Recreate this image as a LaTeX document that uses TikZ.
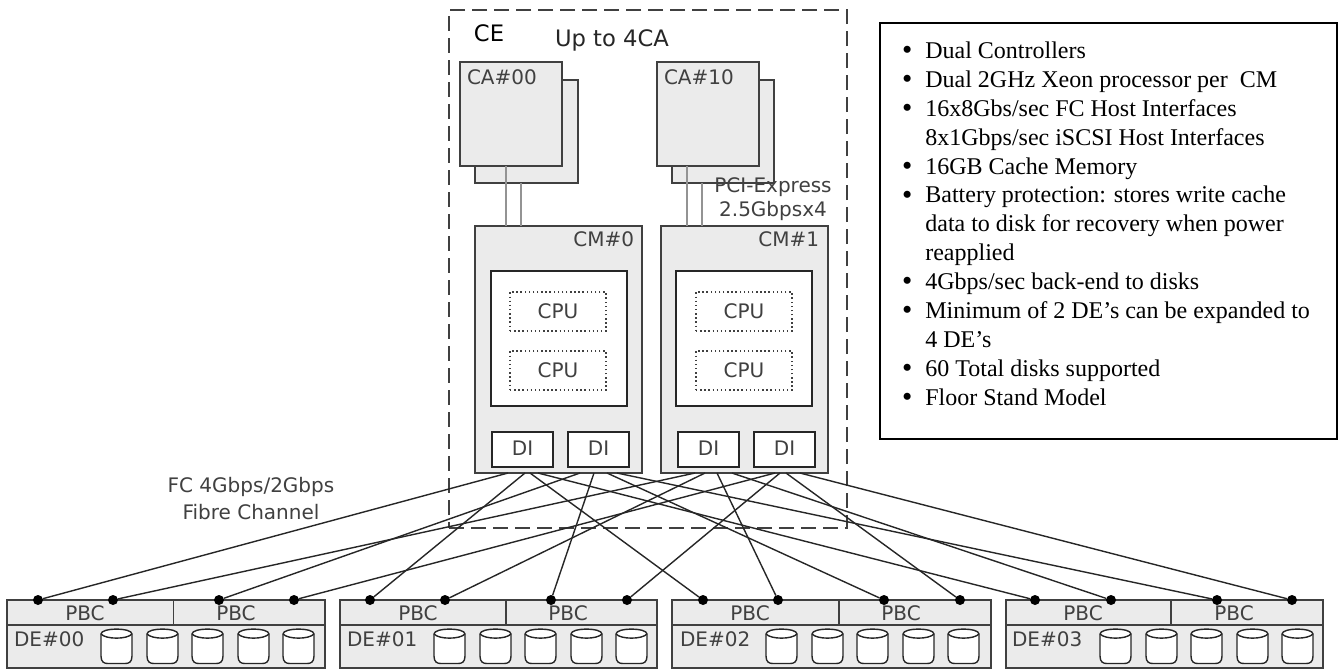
\documentclass[tikz,border=0pt]{standalone}
\usepackage{fontspec}
\setmainfont{DejaVu Sans}
\newfontfamily\serifface{Liberation Serif}
\definecolor{panel}{gray}{0.92}
\definecolor{ink}{gray}{0.25}
\newcommand{\boxnode}[6]{%
  \pgfmathsetlengthmacro{\bw}{(#5-#3)*0.75pt}%
  \pgfmathsetlengthmacro{\bh}{(#6-#4)*0.75pt}%
  \node[#1,minimum width=\bw,minimum height=\bh] (#2) at ({(#3+#5)/2},{(#4+#6)/2}) {};}
\newcommand{\disk}[2]{%
  \draw[diskline] (#1,#2+5) .. controls (#1,#2-1.5) and (#1+31,#2-1.5) .. (#1+31,#2+5)
    -- (#1+31,#2+27) .. controls (#1+31,#2+33) and (#1+28,#2+34.5) .. (#1+24,#2+34.5)
    -- (#1+7,#2+34.5) .. controls (#1+3,#2+34.5) and (#1,#2+33) .. (#1,#2+27) -- cycle;
  \draw[diskline] (#1,#2+5) .. controls (#1+5,#2+10.5) and (#1+26,#2+10.5) .. (#1+31,#2+5);}
\newcommand{\bul}{\makebox[17.5pt][l]{\raisebox{-1pt}{\fontsize{22}{22}\selectfont\textbullet}}}
\newcommand{\ind}{\hspace*{17.5pt}}
\tikzset{
  every node/.style={inner sep=0pt,outer sep=0pt},
  graybox/.style={draw=ink,fill=panel,line width=1.2pt},
  whitebox/.style={draw=black!85,fill=white,line width=1.1pt},
  cpubox/.style={draw=ink,fill=white,line width=1.1pt,dotted},
  diskline/.style={draw=black!85,fill=white,line width=1.05pt},
  lbl/.style={text=ink,font=\fontsize{15}{18}\selectfont},
  bus/.style={draw=gray!85,line width=1.5pt},
  wire/.style={draw=black!85,line width=1.05pt},
  dotnode/.style={circle,fill=black,minimum size=7.5pt},
  dividerline/.style={draw=ink,line width=1pt},
}
\begin{document}
\begin{tikzpicture}[x=0.75pt,y=-0.75pt]
\useasboundingbox (0,0) rectangle (1338,669);
\fill[white] (0,0) rectangle (1338,669);
% enclosure
\boxnode{draw=ink,line width=1.3pt,dash pattern=on 11pt off 5.5pt}{ce}{449}{10}{847}{528}
\node[lbl,font=\fontsize{17}{20}\selectfont,text=black] (celbl) at (489,33) {CE};
\node[lbl,font=\fontsize{17}{20}\selectfont,text=black!85] (up) at (612,40) {Up to 4CA};
% CA
\boxnode{graybox}{caab}{475}{80}{578}{183}
\boxnode{graybox}{caa}{460}{62}{562}{166}
\boxnode{graybox}{cabb}{672}{80}{774}{183}
\boxnode{graybox}{cab}{657}{62}{759}{166}
\node[lbl,anchor=west] (caal) at (467,77) {CA\#00};
\node[lbl,anchor=west] (cabl) at (664,77) {CA\#10};
% CM
\boxnode{graybox}{cma}{475}{226}{642}{473}
\boxnode{graybox}{cmb}{661}{226}{828}{473}
\coordinate (ba1t) at (506,166); \coordinate (ba1b) at (506,226);
\coordinate (ba2t) at (521,183); \coordinate (ba2b) at (521,226);
\coordinate (bb1t) at (687,166); \coordinate (bb1b) at (687,226);
\coordinate (bb2t) at (702,183); \coordinate (bb2b) at (702,226);
\draw[bus] (ba1t) -- (ba1b);
\draw[bus] (ba2t) -- (ba2b);
\draw[bus] (bb1t) -- (bb1b);
\draw[bus] (bb2t) -- (bb2b);
\node[lbl,anchor=east] (cmal) at (634,239) {CM\#0};
\node[lbl,anchor=east] (cmbl) at (819,239) {CM\#1};
\node[lbl] (pci) at (773,187) {PCI-Express};
\node[lbl] (pcib) at (773,211) {2.5Gbpsx4};
\boxnode{whitebox}{ina}{491}{271}{627}{406}
\boxnode{whitebox}{inb}{676}{271}{812}{406}
\boxnode{cpubox}{cpua}{510}{292}{606}{331}
\boxnode{cpubox}{cpub}{510}{351}{606}{390}
\boxnode{cpubox}{cpuc}{696}{292}{792}{331}
\boxnode{cpubox}{cpud}{696}{351}{792}{390}
\node[lbl] at (cpua) {CPU};
\node[lbl] at (cpub) {CPU};
\node[lbl] at (cpuc) {CPU};
\node[lbl] at (cpud) {CPU};
\boxnode{whitebox}{dia}{492}{432}{553}{467}
\boxnode{whitebox}{dib}{568}{432}{629}{467}
\boxnode{whitebox}{dic}{678}{432}{739}{467}
\boxnode{whitebox}{did}{754}{432}{815}{467}
\node[lbl,yshift=0.7pt] at (dia) {DI};
\node[lbl,yshift=0.7pt] at (dib) {DI};
\node[lbl,yshift=0.7pt] at (dic) {DI};
\node[lbl,yshift=0.7pt] at (did) {DI};
\node[lbl] (fca) at (251,487) {FC 4Gbps/2Gbps};
\node[lbl] (fcb) at (251,512) {Fibre Channel};
% drive enclosures
\foreach \n/\l/\r/\d in {a/7/325/173.5,b/340/657/506,c/672/991/839,e/1006/1323/1171}{
  \boxnode{graybox}{de\n}{\l}{600}{\r}{668}
  \draw[dividerline] (\l,625) -- (\r,625);
  \draw[dividerline] (\d,600) -- (\d,625);
  \foreach \o in {94,140,185,231,276}{ \disk{\l+\o}{629} }
}
\node[lbl] at (85,613) {PBC};
\node[lbl] at (236,613) {PBC};
\node[lbl] at (418,613) {PBC};
\node[lbl] at (568,613) {PBC};
\node[lbl] at (750,613) {PBC};
\node[lbl] at (901,613) {PBC};
\node[lbl] at (1083,613) {PBC};
\node[lbl] at (1234,613) {PBC};
\node[lbl,anchor=west] at (14,639) {DE\#00};
\node[lbl,anchor=west] at (347,639) {DE\#01};
\node[lbl,anchor=west] at (680,639) {DE\#02};
\node[lbl,anchor=west] at (1012,639) {DE\#03};
% wires
\foreach \i/\sx/\dx in {1/508/38,2/695/113,3/580/219,4/775/294,5/525/370,6/705/445,7/594/551,8/780/627,
  9/530/703,10/717/778,11/607/884,12/786/960,13/538/1035,14/732/1111,15/617/1217,16/800/1292}{
  \coordinate (s\i) at (\sx,473);
  \node[dotnode] (d\i) at (\dx,600) {};
  \draw[wire] (s\i) -- (d\i);
}
% text box
\boxnode{draw=black,fill=white,line width=1.5pt}{spec}{880}{23}{1337}{439}
\node[anchor=north west,align=left,text=black,font=\serifface\fontsize{18}{21.65}\selectfont] (spectext) at (902,42) {%
\bul Dual Controllers\\
\bul Dual 2GHz Xeon processor per\ \ CM\\
\bul 16x8Gbs/sec FC Host Interfaces\\
\ind 8x1Gbps/sec iSCSI Host Interfaces\\
\bul 16GB Cache Memory\\
\bul Battery protection: stores write cache\\
\ind data to disk for recovery when power\\
\ind reapplied\\
\bul 4Gbps/sec back-end to disks\\
\bul Minimum of 2 DE’s can be expanded to\\
\ind 4 DE’s\\
\bul 60 Total disks supported\\
\bul Floor Stand Model};
\end{tikzpicture}
\end{document}
